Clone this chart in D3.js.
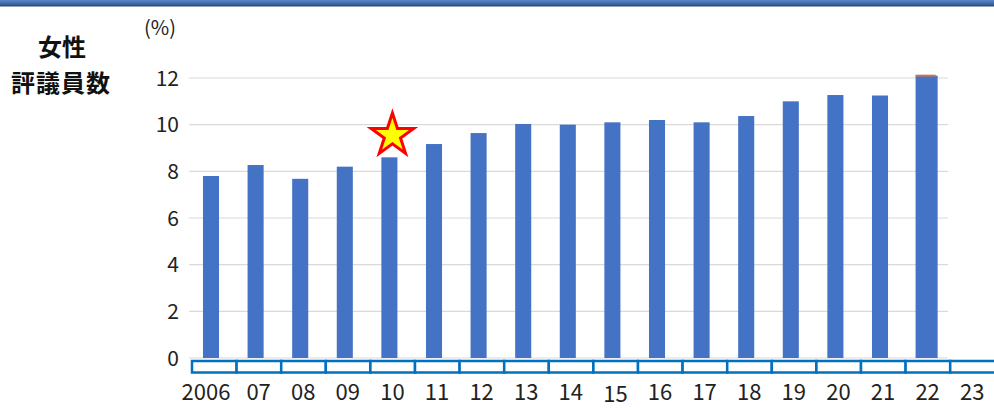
<!DOCTYPE html>
<html>
<head>
<meta charset="utf-8">
<script src="https://cdn.jsdelivr.net/npm/d3@7"></script>
<style>
  body { margin: 0; background: #fff; }
  svg { display: block; font-family: "Noto Sans CJK JP", "Noto Sans", sans-serif; }
</style>
</head>
<body>
<div id="chart"></div>
<script>
// data
const years = ["2006", "07", "08", "09", "10", "11", "12", "13", "14", "15", "16", "17", "18", "19", "20", "21", "22", "23"];
const share = [7.8, 8.27, 7.68, 8.2, 8.6, 9.17, 9.64, 10.03, 10.0, 10.1, 10.2, 10.1, 10.37, 11.0, 11.27, 11.25, 12.1, null];
const yTicks = [0, 2, 4, 6, 8, 10, 12];
const starYear = "10";

const width = 994, height = 408;

const svg = d3.select("#chart").append("svg")
    .attr("width", width)
    .attr("height", height);

// top blue band
const defs = svg.append("defs");
const grad = defs.append("linearGradient").attr("id", "band").attr("x1", 0).attr("y1", 0).attr("x2", 0).attr("y2", 1);
grad.append("stop").attr("offset", "0%").attr("stop-color", "#5b86c8");
grad.append("stop").attr("offset", "55%").attr("stop-color", "#3f69ad");
grad.append("stop").attr("offset", "100%").attr("stop-color", "#27466f");
svg.append("rect").attr("x", 0).attr("y", 0).attr("width", width).attr("height", 6.5).attr("fill", "url(#band)");

// scales
let y = d3.scaleLinear().domain([0, 12]).range([358, 78]);
let x = d3.scaleBand().domain(years).range([188.7, 991.5]).paddingInner(0.64).paddingOuter(0.32);
let xBox = d3.scaleBand().domain(years).range([192, 192 + 18 * 44.6]);

// grid lines
svg.append("g")
    .selectAll("line")
    .data(yTicks)
    .enter()
    .append("line")
    .attr("x1", 189)
    .attr("x2", 948)
    .attr("y1", d => y(d))
    .attr("y2", d => y(d))
    .attr("stroke", "#d9d9d9")
    .attr("stroke-width", 1.2);

// y tick labels
svg.append("g")
    .selectAll("text")
    .data(yTicks)
    .enter()
    .append("text")
    .attr("x", 179)
    .attr("y", d => y(d))
    .attr("dy", "0.36em")
    .attr("text-anchor", "end")
    .attr("font-size", 21)
    .attr("fill", "#222")
    .text(d => d);

svg.append("text")
    .attr("x", 160).attr("y", 35)
    .attr("text-anchor", "middle")
    .attr("font-size", 20)
    .attr("fill", "#222")
    .text("(%)");

// title, two lines
svg.append("text")
    .attr("x", 62).attr("y", 56)
    .attr("text-anchor", "middle")
    .attr("font-size", 24)
    .attr("font-weight", "bold")
    .attr("fill", "#111")
    .text("女性");
svg.append("text")
    .attr("x", 61).attr("y", 92)
    .attr("text-anchor", "middle")
    .attr("font-size", 24)
    .attr("font-weight", "bold")
    .attr("fill", "#111")
    .style("letter-spacing", "1px")
    .text("評議員数");

// bars
const barData = years.map((d, i) => ({ year: d, value: share[i] })).filter(d => d.value != null);
const last = barData[barData.length - 1].year;

svg.append("g")
    .selectAll("rect")
    .data(barData)
    .enter()
    .append("rect")
    .attr("x", d => d.year === last ? x(d.year) - 1 : x(d.year))
    .attr("y", d => y(d.value))
    .attr("width", d => d.year === last ? x.bandwidth() + 6 : x.bandwidth())
    .attr("height", d => y(0) - y(d.value))
    .attr("fill", "#4472c4");

// thin reddish cap on the last bar
svg.append("rect")
    .attr("x", x(last) - 1)
    .attr("y", y(barData[barData.length - 1].value) - 1)
    .attr("width", x.bandwidth() + 4)
    .attr("height", 2)
    .attr("fill", "#c0785a");

// star marker
const starVal = share[years.indexOf(starYear)];
const star = d3.symbol().type(d3.symbolStar).size(560);
svg.append("path")
    .attr("d", star())
    .attr("transform", `translate(${x(starYear) + x.bandwidth() / 2 + 3}, ${y(starVal) - 22})`)
    .attr("fill", "#ffff00")
    .attr("stroke", "#ff0000")
    .attr("stroke-width", 3)
    .attr("stroke-linejoin", "miter");

// boxed category strip
svg.append("g")
    .selectAll("rect")
    .data(years)
    .enter()
    .append("rect")
    .attr("x", d => xBox(d))
    .attr("y", 361)
    .attr("width", (d, i) => i === years.length - 1 ? 60 : xBox.bandwidth())
    .attr("height", 11.5)
    .attr("fill", "#fff")
    .attr("stroke", "#0070c0")
    .attr("stroke-width", 2.5);

// category labels
svg.append("g")
    .selectAll("text")
    .data(years)
    .enter()
    .append("text")
    .attr("x", (d, i) => i === 0 ? 206 : x(d) + x.bandwidth() / 2 + 3)
    .attr("y", d => d === "15" ? 402 : 400)
    .attr("text-anchor", "middle")
    .attr("font-size", 22)
    .attr("fill", "#222")
    .text(d => d);
</script>
</body>
</html>
